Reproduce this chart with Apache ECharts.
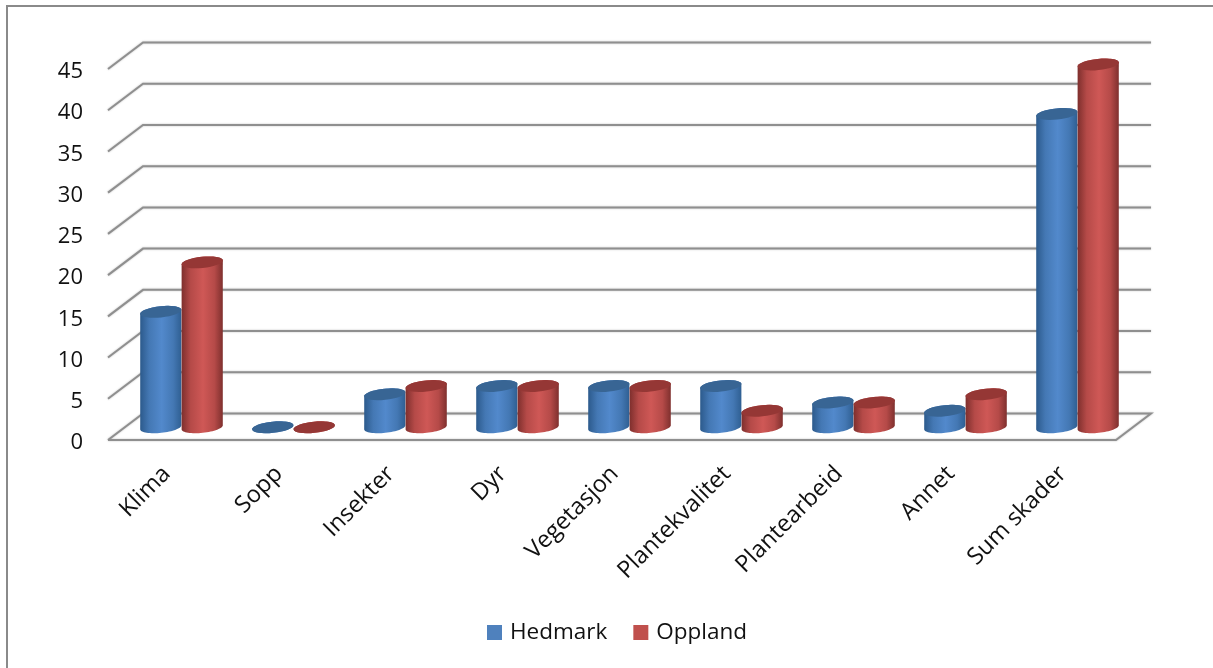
<!DOCTYPE html>
<html>
<head>
<meta charset="utf-8">
<style>html,body{margin:0;padding:0;background:#fff}#chart{width:1213px;height:668px}</style>
<script src="https://cdn.jsdelivr.net/npm/echarts@6/dist/echarts.min.js"></script>
</head>
<body>
<div id="chart"></div>
<script>
// Plant damage counts per cause, two counties
const categories = ['Klima', 'Sopp', 'Insekter', 'Dyr', 'Vegetasjon', 'Plantekvalitet', 'Plantearbeid', 'Annet', 'Sum skader'];
const hedmark = [14, 0, 4, 5, 5, 5, 3, 2, 38];
const oppland = [20, 0, 5, 5, 5, 2, 3, 4, 44];
const yTicks = [0, 5, 10, 15, 20, 25, 30, 35, 40, 45];

// Oblique projection of the chart box: depth of the floor in pixels
const DEPTH_X = 35, DEPTH_Y = -26.5;
const BAR_SHARE = 41.4 / 112, ELL_B = 5.6, TILT = -6 * Math.PI / 180;
const FONT = '"Open Sans", "Noto Sans", sans-serif';

function ellipsePoint(cx, cy, a, t) {
  const x = a * Math.cos(t), y = ELL_B * Math.sin(t);
  return [cx + x * Math.cos(TILT) - y * Math.sin(TILT), cy + x * Math.sin(TILT) + y * Math.cos(TILT)];
}
function arc(cx, cy, a, from, to) {
  const pts = [];
  for (let i = 0; i <= 32; i++) pts.push(ellipsePoint(cx, cy, a, from + (to - from) * i / 32));
  return pts;
}
function sideGradient(edgeL, mid, peak, edgeR) {
  return {
    type: 'linear', x: 0, y: 0, x2: 1, y2: 0,
    colorStops: [
      { offset: 0, color: edgeL }, { offset: 0.22, color: mid }, { offset: 0.52, color: peak },
      { offset: 0.8, color: mid }, { offset: 1, color: edgeR }
    ]
  };
}

// One cylinder per data item; side -1 sits left of the category centre, +1 right of it
function cylinderSeries(name, values, side, legendColor, gradient, capColor) {
  return {
    name, type: 'custom', coordinateSystem: 'cartesian2d', z: 3, clip: false,
    itemStyle: { color: legendColor },
    encode: { x: 0, y: 1 },
    data: values.map((v, i) => [i, v]),
    renderItem(params, api) {
      const idx = api.value(0);
      const band = api.size([1, 0])[0];
      const a = band * BAR_SHARE / 2;
      const base = api.coord([idx, 0]);
      const top = api.coord([idx, api.value(1)]);
      const cx = base[0] + DEPTH_X / 2 + side * a;
      const by = base[1] + DEPTH_Y / 2 + 0.5, ty = top[1] + DEPTH_Y / 2 + 0.5;
      const body = arc(cx, by, a, 0, Math.PI).concat(arc(cx, ty, a, Math.PI, 2 * Math.PI));
      return {
        type: 'group',
        children: [
          { type: 'polygon', shape: { points: body }, style: { fill: gradient } },
          { type: 'polygon', shape: { points: arc(cx, ty, a, 0, 2 * Math.PI) }, style: { fill: capColor } }
        ]
      };
    }
  };
}

// Wall and floor lines of the box, one polyline per value tick
const gridSeries = {
  type: 'custom', coordinateSystem: 'cartesian2d', z: 1, clip: false, silent: true,
  encode: { x: 0, y: 1 }, legendHoverLink: false,
  data: yTicks.map(v => [0, v]),
  renderItem(params, api) {
    const v = api.value(1), cs = params.coordSys, y = api.coord([0, v])[1];
    const left = cs.x, right = cs.x + cs.width;
    let pts = [[left, y], [left + DEPTH_X, y + DEPTH_Y], [right + DEPTH_X, y + DEPTH_Y]];
    if (v === 0) pts = pts.concat([[right, y], [left, y]]);
    return {
      type: 'polyline', shape: { points: pts },
      style: { fill: null, stroke: '#8f8f8f', lineWidth: 2, shadowBlur: 2, shadowColor: 'rgba(0,0,0,0.25)' }
    };
  }
};

const chart = echarts.init(document.getElementById('chart'), null, { renderer: 'canvas' });
chart.setOption({
  animation: false,
  backgroundColor: '#ffffff',
  graphic: [{
    type: 'rect', z: 0, silent: true,
    shape: { x: 7, y: 6, width: 1400, height: 900 },
    style: { fill: 'none', stroke: '#8a8a8a', lineWidth: 2 }
  }],
  grid: { left: 108, right: 97, top: 69, bottom: 228, containLabel: false },
  legend: {
    left: 482, top: 616, itemWidth: 15, itemHeight: 15, itemGap: 26, icon: 'rect',
    data: ['Hedmark', 'Oppland'],
    textStyle: { fontFamily: FONT, fontSize: 22.5, color: '#111', padding: [0, 0, 0, 3] }
  },
  xAxis: {
    type: 'category', data: categories,
    axisLine: { show: false }, axisTick: { show: false }, splitLine: { show: false },
    axisLabel: { interval: 0, rotate: 45, margin: 33, padding: [0, -4, 0, 0], fontFamily: FONT, fontSize: 23.5, color: '#111', hideOverlap: false }
  },
  yAxis: {
    type: 'value', min: 0, max: 45, interval: 5,
    axisLine: { show: false }, axisTick: { show: false }, splitLine: { show: false },
    axisLabel: { margin: 25, verticalAlign: 'top', lineHeight: 6, fontFamily: FONT, fontSize: 22, color: '#111' }
  },
  series: [
    gridSeries,
    cylinderSeries('Hedmark', hedmark, -1, '#4f81bd', sideGradient('#2c5a8c', '#4478b4', '#5289cc', '#2f5f92'), '#386594'),
    cylinderSeries('Oppland', oppland, 1, '#c0504d', sideGradient('#7e2f2d', '#b54a48', '#cf5856', '#7f302e'), '#953735')
  ]
});
</script>
</body>
</html>
